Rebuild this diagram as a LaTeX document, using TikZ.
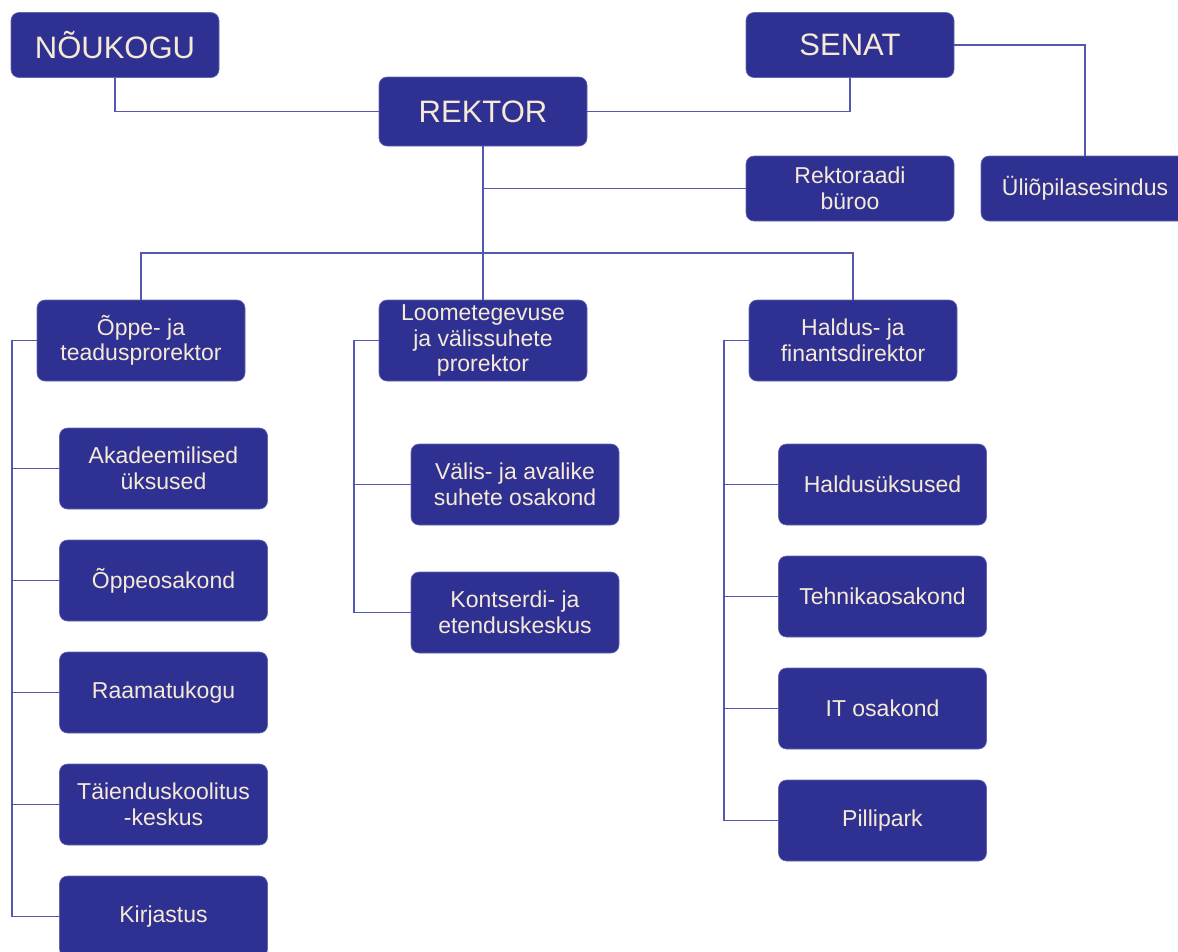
\documentclass[tikz,border=0pt]{standalone}
\usepackage{fontspec}
\setmainfont{Liberation Sans}
\definecolor{boxfill}{RGB}{46,49,146}
\definecolor{boxtext}{RGB}{246,234,214}
\definecolor{linkc}{RGB}{84,88,176}
\begin{document}
\begin{tikzpicture}[x=1pt,y=-1pt,
  orgbox/.style={draw=boxfill!75!white,line width=0.6pt,fill=boxfill,rounded corners=8pt,
    text=boxtext,align=center,inner sep=1pt,
    minimum width=208pt,minimum height=81pt,font=\fontsize{23}{25.5}\selectfont},
  bigbox/.style={orgbox,minimum height=65pt,font=\fontsize{31}{33}\selectfont},
  rekbox/.style={orgbox,minimum height=69pt,font=\fontsize{31}{33}\selectfont},
  midbox/.style={orgbox,minimum height=65pt},
  link/.style={draw=linkc,line width=1.3pt}]
\useasboundingbox (0,0) rectangle (1178,951);
\clip (0,0) rectangle (1178,951);
% top level
\node[bigbox] (noukogu) at (115,45) {NÕUKOGU};
\node[bigbox] (senat) at (850,45) {SENAT};
\node[rekbox] (rektor) at (483,111.5) {REKTOR};
\node[midbox] (buroo) at (850,188.5) {Rektoraadi\\büroo};
\node[midbox] (uliopilas) at (1085,188.5) {Üliõpilasesindus};
% prorectors
\node[orgbox] (oppe) at (141,340.5) {Õppe- ja\\teadusprorektor};
\node[orgbox] (loome) at (483,340.5) {Loometegevuse\\ja välissuhete\\prorektor};
\node[orgbox] (haldus) at (853,340.5) {Haldus- ja\\finantsdirektor};
% left column
\node[orgbox] (akad) at (163.5,468.5) {Akadeemilised\\üksused};
\node[orgbox] (oppeos) at (163.5,580.5) {Õppeosakond};
\node[orgbox] (raamat) at (163.5,692.5) {Raamatukogu};
\node[orgbox] (taiend) at (163.5,804.5) {Täienduskoolitus\\-keskus};
\node[orgbox] (kirj) at (163.5,916.5) {Kirjastus};
% middle column
\node[orgbox] (valis) at (515,484.5) {Välis- ja avalike\\suhete osakond};
\node[orgbox] (kontsert) at (515,612.5) {Kontserdi- ja\\etenduskeskus};
% right column
\node[orgbox] (haldusyk) at (882.5,484.5) {Haldusüksused};
\node[orgbox] (tehnika) at (882.5,596.5) {Tehnikaosakond};
\node[orgbox] (it) at (882.5,708.5) {IT osakond};
\node[orgbox] (pilli) at (882.5,820.5) {Pillipark};
% junction coordinates
\coordinate (bus) at (483,253);
\coordinate (lspine) at (12,340.5);
\coordinate (mspine) at (354,340.5);
\coordinate (rspine) at (724,340.5);
% connectors
\draw[link] (noukogu.south) |- (rektor.west);
\draw[link] (senat.south) |- (rektor.east);
\draw[link] (senat.east) -| (uliopilas.north);
\draw[link] (rektor.south) -- (loome.north);
\draw[link] (buroo.west) -- (buroo.west -| rektor.south);
\draw[link] (oppe.north) |- (bus) -| (haldus.north);
\draw[link] (oppe.west) -- (lspine) -- (lspine |- kirj.west) -- (kirj.west);
\foreach \n in {akad,oppeos,raamat,taiend} \draw[link] (lspine |- \n.west) -- (\n.west);
\draw[link] (loome.west) -- (mspine) -- (mspine |- kontsert.west) -- (kontsert.west);
\draw[link] (mspine |- valis.west) -- (valis.west);
\draw[link] (haldus.west) -- (rspine) -- (rspine |- pilli.west) -- (pilli.west);
\foreach \n in {haldusyk,tehnika,it} \draw[link] (rspine |- \n.west) -- (\n.west);
\end{tikzpicture}
\end{document}
